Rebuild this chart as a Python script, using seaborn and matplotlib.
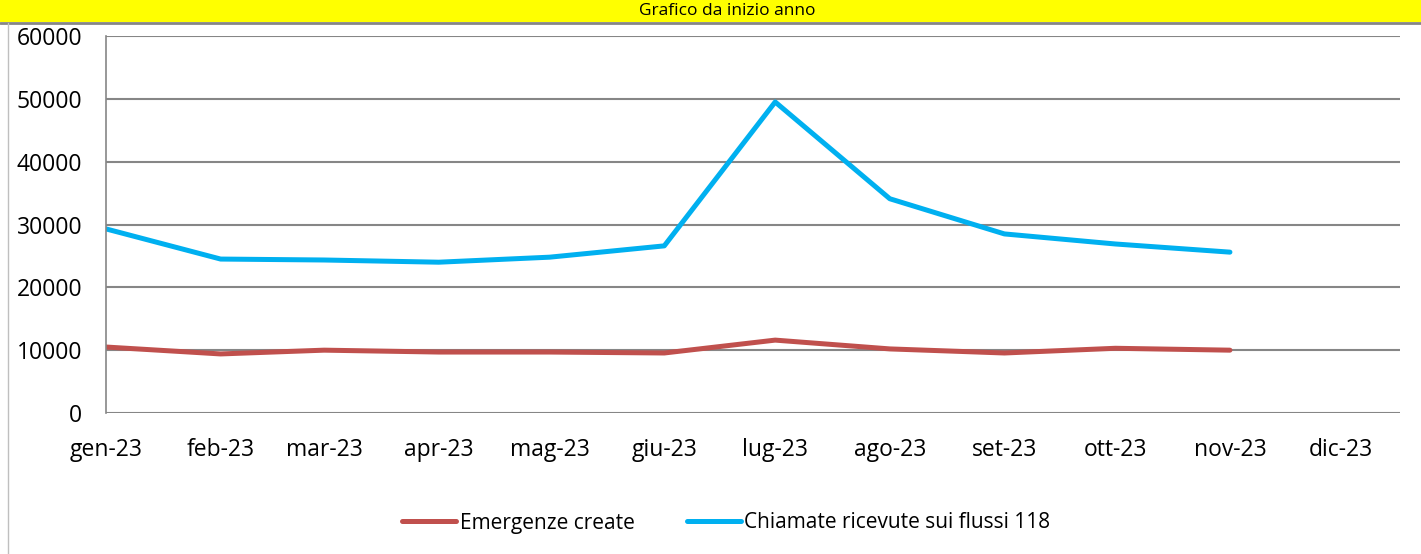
import pandas as pd
import seaborn as sns
import matplotlib.pyplot as plt
from matplotlib.patches import Rectangle
from matplotlib.lines import Line2D

mesi = ['gen-23', 'feb-23', 'mar-23', 'apr-23', 'mag-23', 'giu-23',
        'lug-23', 'ago-23', 'set-23', 'ott-23', 'nov-23', 'dic-23']
date = pd.date_range('2023-01-01', periods=12, freq='MS')

emergenze = [10500, 9400, 10000, 9700, 9700, 9550, 11600, 10200, 9550, 10300, 10000, None]
chiamate = [29300, 24500, 24350, 24000, 24800, 26600, 49500, 34100, 28500, 26900, 25600, None]

serie_emerg = 'Emergenze create'
serie_chiam = 'Chiamate ricevute sui flussi 118'

df = pd.concat([
    pd.DataFrame({'data': date, 'valore': emergenze, 'serie': serie_emerg}),
    pd.DataFrame({'data': date, 'valore': chiamate, 'serie': serie_chiam}),
], ignore_index=True)
df['valore'] = df['valore'].astype(float)

sns.set_style('white')
plt.rcParams['font.family'] = ['Open Sans', 'DejaVu Sans']

fig = plt.figure(figsize=(14.21, 5.54), dpi=100)
ax = fig.add_axes([106 / 1421, 1 - 413 / 554, (1400 - 106) / 1421, (413 - 36) / 554])

grigio = '#868686'

sns.lineplot(df, x='data', y='valore', hue='serie',
             palette={serie_emerg: '#C0504D', serie_chiam: '#00B0F0'},
             linewidth=3.6, ax=ax, solid_capstyle='round', legend=False)

ax.set_xlim(pd.Timestamp('2023-01-01'), pd.Timestamp('2023-12-17'))
ax.set_ylim(0, 60000)
ax.set_yticks(range(0, 60001, 10000))
ax.set_xticks(date)
ax.set_xticklabels(mesi)
ax.yaxis.grid(True, color=grigio, linewidth=1.5)
ax.set_axisbelow(True)
ax.set_xlabel(None)
ax.set_ylabel(None)
for s in ['top', 'right', 'bottom']:
    ax.spines[s].set_visible(False)
ax.spines['left'].set_color(grigio)
ax.spines['left'].set_linewidth(1.2)
ax.tick_params(axis='both', length=7, width=1.2, color=grigio, labelsize=16.5,
               labelcolor='black', pad=10)
ax.tick_params(axis='x', pad=11)

# legenda
handles = [Line2D([], [], color='#C0504D', linewidth=3.6, solid_capstyle='round'),
           Line2D([], [], color='#00B0F0', linewidth=3.6, solid_capstyle='round')]
fig.legend(handles, [serie_emerg, serie_chiam], loc='center', bbox_to_anchor=(0.511, 1 - 523 / 554),
           ncol=2, frameon=False, fontsize=15, handlelength=2.6, handletextpad=0.15,
           columnspacing=2.5, labelcolor='black')

# barra del titolo e bordo
fig.patches.append(Rectangle((0, 1 - 22 / 554), 1, 22 / 554, transform=fig.transFigure,
                             facecolor='#FFFF00', edgecolor='none', zorder=0))
fig.lines.append(Line2D([0, 1], [1 - 23 / 554, 1 - 23 / 554], transform=fig.transFigure,
                        color=grigio, linewidth=2))
fig.lines.append(Line2D([8 / 1421, 8 / 1421], [0, 1 - 23 / 554], transform=fig.transFigure,
                        color='#BFBFBF', linewidth=1))
fig.text(0.512, 1 - 11 / 554, 'Grafico da inizio anno', ha='center', va='center',
         fontsize=12.5, color='black')

fig.savefig('out.png', dpi=100)
